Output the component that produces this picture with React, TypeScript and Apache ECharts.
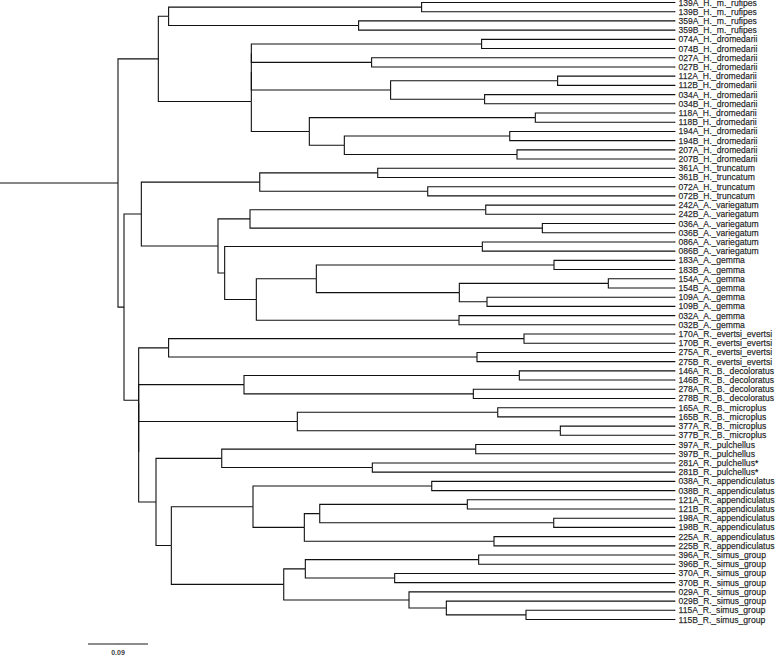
import React, { useEffect, useRef } from "react";
import * as echarts from "echarts";

const leafNames = [
  "139A_H._m._rufipes", "139B_H._m._rufipes", "359A_H._m._rufipes", "359B_H._m._rufipes",
  "074A_H._dromedarii", "074B_H._dromedarii", "027A_H._dromedarii", "027B_H._dromedarii",
  "112A_H._dromedarii", "112B_H._dromedarii", "034A_H._dromedarii", "034B_H._dromedarii",
  "118A_H._dromedarii", "118B_H._dromedarii", "194A_H._dromedarii", "194B_H._dromedarii",
  "207A_H._dromedarii", "207B_H._dromedarii", "361A_H._truncatum", "361B_H._truncatum",
  "072A_H._truncatum", "072B_H._truncatum", "242A_A._variegatum", "242B_A._variegatum",
  "036A_A._variegatum", "036B_A._variegatum", "086A_A._variegatum", "086B_A._variegatum",
  "183A_A._gemma", "183B_A._gemma", "154A_A._gemma", "154B_A._gemma",
  "109A_A._gemma", "109B_A._gemma", "032A_A._gemma", "032B_A._gemma",
  "170A_R._evertsi_evertsi", "170B_R._evertsi_evertsi", "275A_R._evertsi_evertsi", "275B_R._evertsi_evertsi",
  "146A_R._B._decoloratus", "146B_R._B._decoloratus", "278A_R._B._decoloratus", "278B_R._B._decoloratus",
  "165A_R._B._microplus", "165B_R._B._microplus", "377A_R._B._microplus", "377B_R._B._microplus",
  "397A_R._pulchellus", "397B_R._pulchellus", "281A_R._pulchellus*", "281B_R._pulchellus*",
  "038A_R._appendiculatus", "038B_R._appendiculatus", "121A_R._appendiculatus", "121B_R._appendiculatus",
  "198A_R._appendiculatus", "198B_R._appendiculatus", "225A_R._appendiculatus", "225B_R._appendiculatus",
  "396A_R._simus_group", "396B_R._simus_group", "370A_R._simus_group", "370B_R._simus_group",
  "029A_R._simus_group", "029B_R._simus_group", "115A_R._simus_group", "115B_R._simus_group",
];

const leafParents = [
  "r139", "r139", "r359", "r359", "d074", "d074", "d027", "d027", "d112", "d112", "d034", "d034",
  "d118", "d118", "d194", "d194", "d207", "d207", "t361", "t361", "t072", "t072",
  "v242", "v242", "v036", "v036", "v086", "v086", "g183", "g183", "g154", "g154", "g109", "g109",
  "g032", "g032", "e170", "e170", "e275", "e275", "k146", "k146", "k278", "k278",
  "m165", "m165", "m377", "m377", "p397", "p397", "p281", "p281",
  "a038", "a038", "a121", "a121", "a198", "a198", "a225", "a225",
  "s396", "s396", "s370", "s370", "s2", "s3", "s115", "s115",
];

const nodeNames = [
  "R", "H", "Hruf", "r139", "r359", "Hdrom", "dx2", "dx1", "d074", "d027", "d112034", "d112", "d034",
  "d118g", "d118", "d194207", "d194", "d207",
  "N124", "TA", "Tr", "t361", "t072", "Am", "v1", "v242", "v036", "v2", "v086", "G", "G1", "g183",
  "G2", "g154", "g109", "g032",
  "Rh", "ev", "e170", "e275", "rx2", "rx1", "de", "k146", "k278", "mi", "m165", "m377",
  "PS", "pu", "p397", "p281", "AS", "ap", "a038", "a2", "a3", "a121", "a198", "a225",
  "si", "s1", "s396", "s370", "s2", "s3", "s115",
];

const nodeParents = [
  "", "R", "H", "Hruf", "Hruf", "H", "Hdrom", "dx2", "dx1", "dx1", "dx2", "d112034", "d112034",
  "Hdrom", "d118g", "d118g", "d194207", "d194207",
  "R", "N124", "TA", "Tr", "Tr", "TA", "Am", "v1", "v1", "Am", "v2", "v2", "G", "G1",
  "G1", "G2", "G2", "G",
  "N124", "Rh", "ev", "ev", "Rh", "rx2", "rx1", "de", "de", "rx1", "mi", "mi",
  "rx2", "PS", "pu", "pu", "PS", "AS", "ap", "ap", "a2", "a3", "a3", "a2",
  "AS", "si", "s1", "s1", "si", "s2", "s3",
];

const nodeDepths = [
  0, 0.0605, 0.0759, 0.4554, 0.3609, 0.2, 0.2, 0.2, 0.5454, 0.3804, 0.4089, 0.6594, 0.5499,
  0.287, 0.626, 0.3395, 0.5876, 0.5985,
  0.009, 0.035, 0.2126, 0.3896, 0.4646, 0.15, 0.198, 0.5516, 0.6365, 0.16, 0.5465, 0.2075, 0.2975, 0.654,
  0.512, 0.7355, 0.5535, 0.5115,
  0.031, 0.0759, 0.609, 0.5385, 0.031, 0.031, 0.189, 0.602, 0.533, 0.269, 0.5696, 0.6635,
  0.057, 0.1556, 0.5366, 0.3815, 0.08, 0.2025, 0.4706, 0.2795, 0.3026, 0.524, 0.6536, 0.564,
  0.2486, 0.281, 0.541, 0.415, 0.4365, 0.4925, 0.612,
];

const tipDepth = 0.8355;
const rootStem = 0.177;
const scaleBarLength = 0.09;
const scaleBarLabel = "0.09";

function buildTree() {
  const depth: Record<string, number> = {};
  const parent: Record<string, string> = {};
  const kids: Record<string, number[]> = {};
  const kidNodes: Record<string, string[]> = {};
  nodeNames.forEach((n, i) => {
    depth[n] = nodeDepths[i];
    parent[n] = nodeParents[i];
    kids[n] = [];
    kidNodes[n] = [];
  });
  nodeNames.forEach((n, i) => {
    if (nodeParents[i]) kidNodes[nodeParents[i]].push(n);
  });
  leafParents.forEach((p, i) => kids[p].push(i));
  const yOf: Record<string, number> = {};
  const calc = (n: string): number => {
    if (yOf[n] !== undefined) return yOf[n];
    const ys = [...kids[n], ...kidNodes[n].map(calc)];
    const v = (Math.min(...ys) + Math.max(...ys)) / 2;
    yOf[n] = v;
    return v;
  };
  calc("R");
  const edges: number[][][] = [];
  edges.push([[-rootStem, yOf["R"]], [0, yOf["R"]]]);
  nodeNames.forEach((n) => {
    const p = parent[n];
    if (!p) return;
    edges.push([[depth[p], yOf[p]], [depth[p], yOf[n]], [depth[n], yOf[n]]]);
  });
  leafParents.forEach((p, i) => {
    edges.push([[depth[p], yOf[p]], [depth[p], i], [tipDepth, i]]);
  });
  return edges;
}

const PX_X = 0.0015;
const PX_Y = 9.209;
const Y0 = 2.5;
const FONT = "Liberation Sans, Arial, Helvetica, sans-serif";

export default function App() {
  const ref = useRef<HTMLDivElement>(null);
  useEffect(() => {
    if (!ref.current) return;
    const chart = echarts.init(ref.current, undefined, { renderer: "svg" });
    const edges = buildTree();
    const xMin = -rootStem;
    const xMax = xMin + 778 * PX_X;
    const yMin = -Y0 / PX_Y;
    const yMax = yMin + 656 / PX_Y;
    const barY = (644 - Y0) / PX_Y;
    const barStart = xMin + 88 * PX_X;
    chart.setOption({
      animation: false,
      backgroundColor: "#fff",
      color: ["#000"],
      grid: { left: 0, right: 0, top: 0, bottom: 0 },
      xAxis: { type: "value", min: xMin, max: xMax, show: false },
      yAxis: { type: "value", min: yMin, max: yMax, inverse: true, show: false },
      series: [
        {
          type: "lines",
          coordinateSystem: "cartesian2d",
          polyline: true,
          silent: true,
          lineStyle: { color: "#111", width: 1.1, opacity: 1 },
          data: edges.map((c) => ({ coords: c })),
        },
        {
          type: "scatter",
          silent: true,
          symbolSize: 1,
          itemStyle: { color: "#000" },
          label: {
            show: true,
            position: "right",
            distance: 3,
            color: "#000",
            fontFamily: FONT,
            fontSize: 8.6,
            textBorderColor: "#000",
            textBorderWidth: 0.25,
            formatter: (p: any) => p.data[2],
          },
          data: leafNames.map((n, i) => [tipDepth, i, n]),
        },
        {
          type: "lines",
          coordinateSystem: "cartesian2d",
          polyline: true,
          silent: true,
          lineStyle: { color: "#666", width: 1.5, opacity: 1 },
          data: [{ coords: [[barStart, barY], [barStart + scaleBarLength, barY]] }],
        },
        {
          type: "scatter",
          silent: true,
          symbolSize: 1,
          itemStyle: { color: "#666" },
          label: {
            show: true,
            position: "bottom",
            distance: 4,
            color: "#000",
            fontFamily: FONT,
            fontSize: 7,
            fontWeight: "bold",
            formatter: () => scaleBarLabel,
          },
          data: [[barStart + scaleBarLength / 2, barY]],
        },
      ],
    });
    return () => chart.dispose();
  }, []);
  return (
    <div
      ref={ref}
      style={{ position: "absolute", left: 0, top: 0, width: 778, height: 656, background: "#fff" }}
    />
  );
}
